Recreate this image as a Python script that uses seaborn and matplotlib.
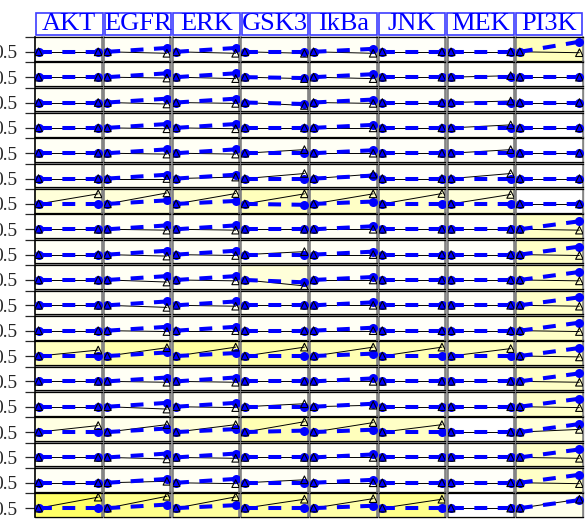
import matplotlib
matplotlib.use('Agg')
import matplotlib.pyplot as plt
from matplotlib.patches import Rectangle
import numpy as np
import pandas as pd
import seaborn as sns

readouts = ['AKT', 'EGFR', 'ERK', 'GSK3', 'IkBa', 'JNK', 'MEK', 'PI3K']
times = [0, 1]
start_value = 0.5

# simulated value at t1 (blue dashed), one list per readout, 19 conditions
sim_AKT  = [0.5, 0.5, 0.5, 0.5, 0.5, 0.5, 0.5, 0.5, 0.5, 0.5, 0.5, 0.5, 0.5, 0.5, 0.5, 0.5, 0.5, 0.5, 0.5]
sim_EGFR = [0.63, 0.63, 0.63, 0.63, 0.63, 0.63, 0.62, 0.63, 0.63, 0.63, 0.63, 0.63, 0.62, 0.63, 0.63, 0.62, 0.63, 0.63, 0.62]
sim_ERK  = [0.63, 0.63, 0.63, 0.63, 0.63, 0.63, 0.6, 0.63, 0.63, 0.63, 0.63, 0.63, 0.6, 0.63, 0.63, 0.6, 0.63, 0.63, 0.6]
sim_GSK3 = [0.5, 0.47, 0.45, 0.5, 0.5, 0.5, 0.47, 0.5, 0.5, 0.42, 0.5, 0.5, 0.5, 0.5, 0.5, 0.55, 0.5, 0.5, 0.5]
sim_IkBa = [0.6, 0.6, 0.6, 0.6, 0.6, 0.6, 0.58, 0.6, 0.6, 0.6, 0.6, 0.6, 0.58, 0.6, 0.6, 0.58, 0.6, 0.6, 0.58]
sim_JNK  = [0.5, 0.5, 0.5, 0.5, 0.5, 0.5, 0.5, 0.5, 0.5, 0.5, 0.5, 0.5, 0.5, 0.5, 0.5, 0.5, 0.5, 0.5, 0.5]
sim_MEK  = [0.5, 0.5, 0.5, 0.5, 0.5, 0.5, 0.5, 0.5, 0.5, 0.5, 0.5, 0.5, 0.5, 0.5, 0.5, 0.5, 0.5, 0.5, 0.5]
sim_PI3K = [0.84, 0.5, 0.5, 0.5, 0.5, 0.5, 0.5, 0.77, 0.77, 0.77, 0.77, 0.77, 0.77, 0.77, 0.77, 0.77, 0.77, 0.77, 0.77]

# measured value at t1 (black, triangles)
dat_AKT  = [0.5, 0.5, 0.5, 0.5, 0.5, 0.5, 0.84, 0.5, 0.5, 0.5, 0.5, 0.5, 0.7, 0.5, 0.5, 0.72, 0.5, 0.5, 0.87]
dat_EGFR = [0.45, 0.47, 0.45, 0.47, 0.47, 0.5, 0.87, 0.47, 0.45, 0.43, 0.43, 0.47, 0.78, 0.47, 0.42, 0.75, 0.45, 0.55, 0.9]
dat_ERK  = [0.45, 0.45, 0.47, 0.47, 0.47, 0.55, 0.85, 0.47, 0.47, 0.47, 0.47, 0.5, 0.8, 0.47, 0.47, 0.75, 0.47, 0.47, 0.88]
dat_GSK3 = [0.45, 0.45, 0.4, 0.5, 0.62, 0.67, 0.84, 0.5, 0.6, 0.3, 0.5, 0.5, 0.8, 0.5, 0.6, 0.85, 0.5, 0.6, 0.8]
dat_IkBa = [0.45, 0.45, 0.47, 0.5, 0.5, 0.65, 0.84, 0.5, 0.5, 0.5, 0.5, 0.5, 0.8, 0.5, 0.55, 0.82, 0.5, 0.5, 0.82]
dat_JNK  = [0.5, 0.5, 0.5, 0.5, 0.5, 0.5, 0.85, 0.5, 0.5, 0.5, 0.5, 0.5, 0.8, 0.5, 0.5, 0.75, 0.5, 0.5, 0.8]
dat_MEK  = [0.5, 0.55, 0.55, 0.6, 0.62, 0.67, 0.82, 0.5, 0.5, 0.5, 0.5, 0.5, 0.75, 0.5, 0.5, 0.5, 0.5, 0.5, 0.5]
dat_PI3K = [0.47, 0.5, 0.5, 0.5, 0.5, 0.5, 0.5, 0.47, 0.47, 0.47, 0.47, 0.47, 0.47, 0.47, 0.47, 0.59, 0.47, 0.47, 0.8]

# fit error per panel (background shade)
err_AKT  = [0.05, 0.05, 0.05, 0.05, 0.05, 0.05, 0.2, 0.05, 0.05, 0.05, 0.05, 0.05, 0.35, 0.05, 0.05, 0.15, 0.05, 0.05, 0.8]
err_EGFR = [0.05, 0.05, 0.05, 0.05, 0.05, 0.05, 0.2, 0.05, 0.05, 0.05, 0.05, 0.05, 0.45, 0.05, 0.05, 0.1, 0.05, 0.05, 0.6]
err_ERK  = [0.05, 0.05, 0.05, 0.05, 0.05, 0.05, 0.25, 0.05, 0.05, 0.05, 0.05, 0.05, 0.5, 0.05, 0.05, 0.2, 0.05, 0.05, 0.5]
err_GSK3 = [0.05, 0.05, 0.05, 0.05, 0.05, 0.05, 0.35, 0.05, 0.05, 0.2, 0.05, 0.05, 0.45, 0.05, 0.05, 0.4, 0.05, 0.05, 0.5]
err_IkBa = [0.05, 0.05, 0.05, 0.05, 0.05, 0.05, 0.3, 0.05, 0.05, 0.05, 0.05, 0.05, 0.4, 0.05, 0.05, 0.35, 0.05, 0.05, 0.45]
err_JNK  = [0.03, 0.03, 0.03, 0.03, 0.03, 0.03, 0.25, 0.03, 0.03, 0.03, 0.03, 0.03, 0.4, 0.03, 0.03, 0.3, 0.03, 0.03, 0.6]
err_MEK  = [0.0, 0.03, 0.03, 0.03, 0.03, 0.03, 0.2, 0.03, 0.03, 0.03, 0.03, 0.03, 0.35, 0.03, 0.03, 0.0, 0.03, 0.03, 0.0]
err_PI3K = [0.35, 0.0, 0.0, 0.0, 0.0, 0.0, 0.0, 0.3, 0.3, 0.3, 0.3, 0.3, 0.3, 0.3, 0.3, 0.2, 0.3, 0.3, 0.1]

sim = dict(zip(readouts, [sim_AKT, sim_EGFR, sim_ERK, sim_GSK3, sim_IkBa, sim_JNK, sim_MEK, sim_PI3K]))
dat = dict(zip(readouts, [dat_AKT, dat_EGFR, dat_ERK, dat_GSK3, dat_IkBa, dat_JNK, dat_MEK, dat_PI3K]))
err = dict(zip(readouts, [err_AKT, err_EGFR, err_ERK, err_GSK3, err_IkBa, err_JNK, err_MEK, err_PI3K]))
n_rows = len(sim_AKT)

recs = []
for c in readouts:
    for r in range(n_rows):
        recs.append((c, r, times[0], start_value, 'data'))
        recs.append((c, r, times[1], dat[c][r], 'data'))
        recs.append((c, r, times[0], start_value, 'sim'))
        recs.append((c, r, times[1], sim[c][r], 'sim'))
df = pd.DataFrame(recs, columns=['readout', 'cond', 'time', 'value', 'kind'])

sns.set_style('white')
plt.rcParams['font.family'] = ['Liberation Serif', 'DejaVu Serif']

W, H = 586, 519
fig, axes = plt.subplots(n_rows, len(readouts), figsize=(W / 100, H / 100), dpi=100,
                         sharex=True, sharey=True,
                         gridspec_kw=dict(wspace=0.03, hspace=0.07))
x0, x1, y0, y1 = 35, 583, 37, 517
fig.subplots_adjust(left=x0 / W, right=x1 / W, top=1 - y0 / H, bottom=1 - y1 / H)

# grey behind the panel grid
fig.patches.append(Rectangle((x0 / W, 1 - y1 / H), (x1 - x0) / W, (y1 - y0) / H,
                             transform=fig.transFigure, color='#9a9a9a', zorder=-5))

for j, c in enumerate(readouts):
    for r in range(n_rows):
        ax = axes[r, j]
        e = err[c][r]
        ax.set_facecolor((1, 1, 1 - 0.75 * e))
        sub = df[(df.readout == c) & (df.cond == r)]
        d = sub[sub.kind == 'data']
        s = sub[sub.kind == 'sim']
        sns.lineplot(data=d, x='time', y='value', ax=ax, color='black', lw=0.7,
                     errorbar=None, zorder=2)
        sns.lineplot(data=s, x='time', y='value', ax=ax, color='#0000ff', lw=2.9,
                     linestyle=(0, (3.2, 2.6)), marker='o', markersize=6.5,
                     markeredgewidth=0, errorbar=None, zorder=3)
        sns.scatterplot(data=d, x='time', y='value', ax=ax, marker='^', s=30,
                        facecolors='none', edgecolor='black', linewidth=0.8, zorder=4)
        ax.set_xlim(-0.06, 1.06)
        ax.set_ylim(0.2, 1.0)
        ax.set_xlabel('')
        ax.set_ylabel('')
        ax.set_xticks([])
        for side in ['top', 'bottom']:
            ax.spines[side].set_color('black')
            ax.spines[side].set_linewidth(0.9)
        for side in ['left', 'right']:
            ax.spines[side].set_color('#808080')
            ax.spines[side].set_linewidth(1.2)
        if j == 0:
            ax.spines['left'].set_color('black')
            ax.set_yticks([0.5, 1.0])
            ax.set_yticklabels(['0.5', ''])
            ax.tick_params(axis='y', left=True, length=7, width=0.9, pad=6, labelsize=14)
        else:
            ax.tick_params(axis='y', left=False, labelleft=False)

# column headers
col_w = (x1 - x0) / len(readouts)
for j, c in enumerate(readouts):
    bx = x0 + j * col_w + 1
    fig.patches.append(Rectangle((bx / W, 1 - 35 / H), (col_w - 2) / W, 22 / H,
                                 transform=fig.transFigure, facecolor='white',
                                 edgecolor='#3c3cff', linewidth=1.2, zorder=1))
    fig.text((x0 + (j + 0.5) * col_w) / W, 1 - 24 / H, c, ha='center', va='center',
             color='#0000ff', fontsize=19)

fig.savefig('out.png', dpi=100)
